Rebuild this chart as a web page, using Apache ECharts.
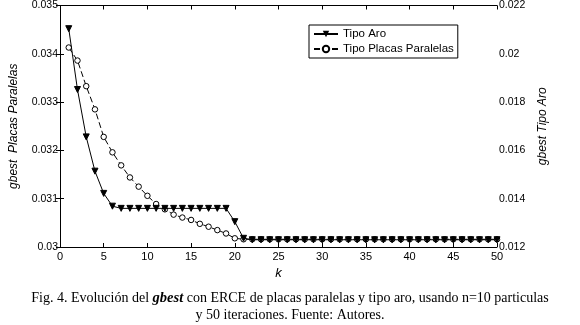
<!DOCTYPE html>
<html>
<head>
<meta charset="utf-8">
<script src="https://cdn.jsdelivr.net/npm/echarts@6/dist/echarts.min.js"></script>
<style>html,body{margin:0;padding:0;background:#fff}#c{width:580px;height:325px}</style>
</head>
<body>
<div id="c"></div>
<script>
var kValues = [1,2,3,4,5,6,7,8,9,10,11,12,13,14,15,16,17,18,19,20,21,22,23,24,25,26,27,28,29,30,31,32,33,34,35,36,37,38,39,40,41,42,43,44,45,46,47,48,49,50];
var placasParalelas = [0.03413,0.03386,0.03333,0.03285,0.03228,0.03196,0.03169,0.03144,0.03125,0.03106,0.03089,0.03078,0.03067,0.03061,0.03056,0.03048,0.03042,0.03035,0.03028,0.03018,0.03016,0.03016,0.03016,0.03016,0.03016,0.03016,0.03016,0.03016,0.03016,0.03016,0.03016,0.03016,0.03016,0.03016,0.03016,0.03016,0.03016,0.03016,0.03016,0.03016,0.03016,0.03016,0.03016,0.03016,0.03016,0.03016,0.03016,0.03016,0.03016,0.03016];
var tipoAro = [0.02104,0.01852,0.01656,0.01514,0.01422,0.01369,0.0136,0.0136,0.0136,0.0136,0.0136,0.0136,0.0136,0.0136,0.0136,0.0136,0.0136,0.0136,0.0136,0.01305,0.01236,0.0123,0.0123,0.0123,0.0123,0.0123,0.0123,0.0123,0.0123,0.0123,0.0123,0.0123,0.0123,0.0123,0.0123,0.0123,0.0123,0.0123,0.0123,0.0123,0.0123,0.0123,0.0123,0.0123,0.0123,0.0123,0.0123,0.0123,0.0123,0.0123];
var xTicks = {min:0, max:50, interval:5};
var leftTicks = {min:0.03, max:0.035, interval:0.001};
var rightTicks = {min:0.012, max:0.022, interval:0.002};

function pairs(xs, ys){ return xs.map(function(x,i){ return [x, ys[i]]; }); }

var chart = echarts.init(document.getElementById('c'), null, {renderer:'canvas'});
var font = 'Liberation Sans, Arial, sans-serif';
var lineAxis = {show:true, lineStyle:{color:'#000', width:1}};
chart.setOption({
  animation:false,
  backgroundColor:'#fff',
  grid:{left:59, right:83, top:5, bottom:78, containLabel:false},
  title:{
    text:'Fig. 4. Evolución del {b|gbest} con ERCE de placas paralelas y tipo aro, usando n=10 particulas\ny 50 iteraciones. Fuente: Autores.',
    left:'center', top:285,
    textStyle:{fontFamily:'Liberation Serif, serif', fontSize:14, fontWeight:'normal', color:'#000', lineHeight:17,
      rich:{b:{fontFamily:'Liberation Serif, serif', fontSize:14.5, fontWeight:'bold', fontStyle:'italic', color:'#000'}}}
  },
  legend:{
    orient:'vertical', left:309, top:25,
    borderColor:'#000', borderWidth:1, padding:[3,4,3,4], itemGap:3,
    itemWidth:24, itemHeight:8,
    textStyle:{fontFamily:font, fontSize:11.5, color:'#000'},
    data:['Tipo Aro','Tipo Placas Paralelas']
  },
  xAxis:[
    {type:'value', min:xTicks.min, max:xTicks.max, interval:xTicks.interval, position:'bottom',
     name:'k', nameLocation:'middle', nameGap:18,
     nameTextStyle:{fontFamily:font, fontSize:13, fontStyle:'italic', color:'#000'},
     axisLine:lineAxis, axisTick:{inside:true, length:4, lineStyle:{color:'#000'}},
     axisLabel:{fontFamily:font, fontSize:11, color:'#000', margin:4}, splitLine:{show:false}},
    {type:'value', min:xTicks.min, max:xTicks.max, interval:xTicks.interval, position:'top',
     axisLine:lineAxis, axisTick:{inside:true, length:4, lineStyle:{color:'#000'}},
     axisLabel:{show:false}, splitLine:{show:false}}
  ],
  yAxis:[
    {type:'value', min:leftTicks.min, max:leftTicks.max, interval:leftTicks.interval, position:'left',
     name:'gbest  Placas Paralelas', nameLocation:'middle', nameGap:40,
     nameTextStyle:{fontFamily:font, fontSize:12, fontStyle:'italic', color:'#000'},
     axisLine:lineAxis, axisTick:{inside:true, length:4, lineStyle:{color:'#000'}},
     axisLabel:{fontFamily:font, fontSize:10.5, color:'#000', margin:2, formatter:function(v){return String(+v.toFixed(4));}},
     splitLine:{show:false}},
    {type:'value', min:rightTicks.min, max:rightTicks.max, interval:rightTicks.interval, position:'right',
     name:'gbest Tipo Aro', nameLocation:'middle', nameGap:40,
     nameTextStyle:{fontFamily:font, fontSize:12, fontStyle:'italic', color:'#000'},
     axisLine:lineAxis, axisTick:{inside:true, length:4, lineStyle:{color:'#000'}},
     axisLabel:{fontFamily:font, fontSize:10.5, color:'#000', margin:2, formatter:function(v){return String(+v.toFixed(4));}},
     splitLine:{show:false}}
  ],
  series:[
    {name:'Tipo Aro', type:'line', xAxisIndex:0, yAxisIndex:1, data:pairs(kValues, tipoAro),
     symbol:'triangle', symbolRotate:180, symbolSize:6, showSymbol:true,
     itemStyle:{color:'#000', borderColor:'#000'}, lineStyle:{color:'#000', width:1}, z:5},
    {name:'Tipo Placas Paralelas', type:'line', xAxisIndex:0, yAxisIndex:0, data:pairs(kValues, placasParalelas),
     symbol:'circle', symbolSize:5.5, showSymbol:true,
     itemStyle:{color:'#fff', borderColor:'#000', borderWidth:1}, lineStyle:{color:'#000', width:1, type:[6,3]}, z:4}
  ]
});
</script>
</body>
</html>
